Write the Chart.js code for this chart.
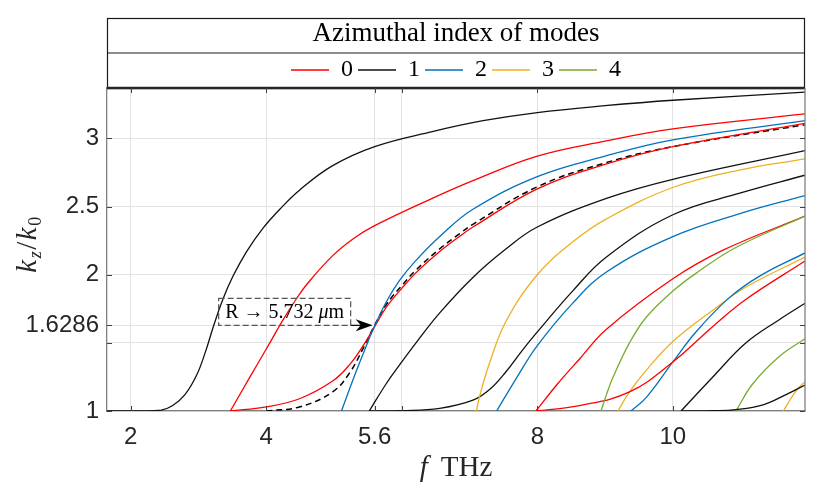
<!DOCTYPE html>
<html>
<head>
<meta charset="utf-8">
<script src="https://cdn.jsdelivr.net/npm/chart.js@4.4.1/dist/chart.umd.min.js"></script>
<style>
  html, body { margin: 0; padding: 0; background: #fff; }
</style>
</head>
<body>
<canvas id="modeChart" width="830" height="494"></canvas>
<script>
// kz/k0 against f (THz) for azimuthal mode index 0..4

const xTicks = [2, 4, 5.6, 6, 8, 10];
const xTickLabels = ['2', '4', '5.6', '', '8', '10'];
const yTicks = [1, 1.5, 1.6286, 2, 2.5, 3];
const yTickLabels = ['1', '', '1.6286', '2', '2.5', '3'];

const modeLabels = ['0', '1', '2', '3', '4'];
const modeColors = ['#ff0000', '#111111', '#0072bd', '#edb120', '#77ac30'];

// mode 0 (red)
const mode0a = [[3.47,1],[3.76,1.25],[4.0,1.455],[4.25,1.67],[4.44,1.82],[4.6,1.93],[4.98,2.14],[5.3,2.27],[5.6,2.36],[6.45,2.56],[7.05,2.69],[8.0,2.87],[9.0,2.98],[10.0,3.07],[11.95,3.18]];
const mode0b = [[3.47,1],[4.0,1.03],[4.49,1.09],[4.98,1.22],[5.23,1.34],[5.43,1.48],[5.6,1.62],[5.77,1.76],[6.0,1.9],[6.2,2.01],[6.56,2.17],[6.85,2.28],[7.05,2.35],[8.0,2.63],[9.0,2.81],[10.0,2.94],[11.95,3.11]];
const mode0c = [[7.98,1],[8.3,1.2],[8.62,1.38],[9.02,1.6],[10.0,1.97],[10.74,2.18],[11.95,2.43]];
const mode0d = [[7.98,1],[8.62,1.04],[9.36,1.14],[10.0,1.36],[10.59,1.62],[11.08,1.82],[11.95,2.1]];

// mode 1 (black)
const mode1a = [[1.65,1],[2.2,1.0],[2.45,1.006],[2.62,1.04],[2.8,1.12],[2.97,1.26],[3.1,1.43],[3.22,1.62],[3.36,1.82],[3.51,1.99],[3.71,2.17],[3.95,2.34],[4.2,2.48],[4.49,2.62],[4.98,2.8],[5.6,2.94],[6.45,3.05],[7.2,3.13],[8.0,3.19],[9.0,3.24],[10.0,3.28],[11.95,3.34]];
const mode1b = [[5.52,1],[5.77,1.2],[5.97,1.34],[6.21,1.5],[6.56,1.72],[7.05,1.98],[7.54,2.19],[8.0,2.35],[9.02,2.56],[10.0,2.7],[11.95,2.91]];
const mode1c = [[5.52,1],[6.0,1.003],[6.56,1.02],[7.05,1.08],[7.3,1.16],[7.54,1.29],[7.77,1.44],[8.0,1.58],[8.52,1.88],[9.02,2.13],[10.0,2.44],[11.0,2.6],[11.95,2.73]];
const mode1d = [[10.12,1],[10.59,1.25],[11.08,1.5],[11.57,1.67],[11.95,1.79]];
const mode1e = [[10.12,1],[10.6,1.002],[10.93,1.01],[11.33,1.045],[11.67,1.12],[11.95,1.19]];

// mode 2 (blue)
const mode2a = [[5.11,1],[5.28,1.23],[5.43,1.42],[5.57,1.59],[5.77,1.8],[5.97,1.96],[6.2,2.1],[6.56,2.28],[7.05,2.48],[8.0,2.72],[9.0,2.87],[10.0,2.99],[11.95,3.13]];
const mode2b = [[7.4,1],[7.69,1.24],[8.0,1.48],[8.52,1.79],[9.02,2.02],[10.0,2.28],[11.0,2.45],[11.95,2.58]];
const mode2c = [[9.38,1],[9.61,1.1],[10.0,1.36],[10.34,1.58],[10.83,1.83],[11.28,1.99],[11.95,2.16]];

// mode 3 (yellow)
const mode3a = [[7.1,1],[7.16,1.13],[7.3,1.36],[7.54,1.66],[8.0,2.0],[8.52,2.24],[9.02,2.41],[10.0,2.64],[11.0,2.77],[11.95,2.85]];
const mode3b = [[9.19,1],[9.36,1.14],[9.61,1.3],[10.0,1.51],[10.59,1.74],[11.08,1.91],[11.95,2.13]];
const mode3c = [[11.63,1],[11.82,1.15],[11.95,1.215]];

// mode 4 (green)
const mode4a = [[8.94,1],[9.02,1.12],[9.11,1.24],[9.36,1.5],[9.61,1.69],[10.0,1.88],[10.34,2.01],[10.93,2.2],[11.95,2.43]];
const mode4b = [[10.93,1],[11.18,1.2],[11.57,1.4],[11.95,1.53]];

// dashed curve for R -> 5.732 um
const radiusCurve = [[4.0,1],[4.49,1.03],[4.98,1.14],[5.23,1.28],[5.43,1.46],[5.6,1.63],[5.77,1.78],[6.0,1.92],[6.2,2.03],[6.56,2.19],[6.85,2.3],[7.05,2.37],[8.0,2.645],[9.0,2.82],[10.0,2.94],[11.95,3.1]];

const markF = 5.6;
const markK = 1.6286;

const curves = [
  [0, mode0a], [1, mode1a], [2, mode2a], [3, mode3a], [4, mode4a],
  [0, mode0b], [0, mode0c], [0, mode0d],
  [1, mode1b], [1, mode1c], [1, mode1d], [1, mode1e],
  [2, mode2b], [2, mode2c],
  [3, mode3b], [3, mode3c],
  [4, mode4b]
];

const datasets = curves.map(([m, pts]) => ({
  label: modeLabels[m],
  data: pts.map(([x, y]) => ({x, y})),
  borderColor: modeColors[m],
  backgroundColor: modeColors[m],
  borderWidth: 1.3,
  pointRadius: 0,
  fill: false,
  tension: 0.4
}));

datasets.push({
  label: 'R',
  data: radiusCurve.map(([x, y]) => ({x, y})),
  borderColor: '#000000',
  borderWidth: 1.5,
  borderDash: [6, 4],
  pointRadius: 0,
  fill: false,
  tension: 0.4
});

const SERIF = "'Liberation Serif', 'DejaVu Serif', serif";
const SANS = "'Liberation Sans', Arial, sans-serif";
const TITLE_ROW = 35;

const framePlugin = {
  id: 'frame',
  afterDraw(chart) {
    const ctx = chart.ctx;
    const ca = chart.chartArea;
    const xs = chart.scales.x;
    const ys = chart.scales.y;
    const lg = chart.legend;

    ctx.save();

    // legend box
    ctx.strokeStyle = '#1a1a1a';
    ctx.lineWidth = 1.2;
    ctx.strokeRect(ca.left + 0.5, lg.top + 0.5, ca.right - ca.left - 1, ca.top - lg.top);
    ctx.beginPath();
    ctx.moveTo(ca.left, lg.top + TITLE_ROW);
    ctx.lineTo(ca.right, lg.top + TITLE_ROW);
    ctx.stroke();

    // top of axes (dark, double line look)
    ctx.lineWidth = 2.4;
    ctx.strokeStyle = '#262626';
    ctx.beginPath();
    ctx.moveTo(ca.left, ca.top);
    ctx.lineTo(ca.right, ca.top);
    ctx.stroke();

    // right axis
    ctx.lineWidth = 1.3;
    ctx.strokeStyle = '#808080';
    ctx.beginPath();
    ctx.moveTo(ca.right, ca.top);
    ctx.lineTo(ca.right, ca.bottom);
    ctx.stroke();

    // inward ticks
    ctx.strokeStyle = '#404040';
    ctx.lineWidth = 1;
    ctx.beginPath();
    xs.ticks.forEach(t => {
      const px = Math.round(xs.getPixelForValue(t.value)) + 0.5;
      ctx.moveTo(px, ca.bottom); ctx.lineTo(px, ca.bottom - 5);
      ctx.moveTo(px, ca.top); ctx.lineTo(px, ca.top + 5);
    });
    ys.ticks.forEach(t => {
      const py = Math.round(ys.getPixelForValue(t.value)) + 0.5;
      ctx.moveTo(ca.left, py); ctx.lineTo(ca.left + 5, py);
      ctx.moveTo(ca.right, py); ctx.lineTo(ca.right - 5, py);
    });
    ctx.stroke();

    // annotation: R -> 5.732 um with arrow
    const tipX = xs.getPixelForValue(markF) - 2;
    const tipY = ys.getPixelForValue(markK);
    const boxR = tipX - 22, boxW = 132, boxH = 27;
    const boxL = boxR - boxW, boxT = tipY - boxH;
    ctx.setLineDash([6, 3]);
    ctx.strokeStyle = '#555555';
    ctx.lineWidth = 1.2;
    ctx.strokeRect(boxL, boxT, boxW, boxH);
    ctx.setLineDash([]);

    ctx.fillStyle = '#000';
    ctx.textBaseline = 'middle';
    ctx.textAlign = 'left';
    const partA = 'R \u2192 5.732 ';
    const partB = '\u03bc';
    const partC = 'm';
    ctx.font = '20px ' + SERIF;
    const wA = ctx.measureText(partA).width;
    const wC = ctx.measureText(partC).width;
    ctx.font = 'italic 20px ' + SERIF;
    const wB = ctx.measureText(partB).width;
    let tx = boxL + (boxW - wA - wB - wC) / 2;
    const ty = boxT + boxH / 2 + 1;
    ctx.font = '20px ' + SERIF;
    ctx.fillText(partA, tx, ty);
    tx += wA;
    ctx.font = 'italic 20px ' + SERIF;
    ctx.fillText(partB, tx, ty);
    tx += wB;
    ctx.font = '20px ' + SERIF;
    ctx.fillText(partC, tx, ty);

    ctx.strokeStyle = '#000';
    ctx.lineWidth = 1.2;
    ctx.beginPath();
    ctx.moveTo(boxR, tipY);
    ctx.lineTo(tipX - 8, tipY);
    ctx.stroke();
    ctx.beginPath();
    ctx.moveTo(tipX, tipY);
    ctx.lineTo(tipX - 17, tipY - 6);
    ctx.lineTo(tipX - 12, tipY);
    ctx.lineTo(tipX - 17, tipY + 6);
    ctx.closePath();
    ctx.fill();

    // x axis title: f THz
    ctx.fillStyle = '#262626';
    ctx.textBaseline = 'middle';
    ctx.font = 'italic 29px ' + SERIF;
    const wf = ctx.measureText('f').width + 13;
    ctx.font = '29px ' + SERIF;
    const wt = ctx.measureText('THz').width;
    const xx = (ca.left + ca.right) / 2 - (wf + wt) / 2;
    const xy = 468;
    ctx.font = 'italic 29px ' + SERIF;
    ctx.fillText('f', xx, xy);
    ctx.font = '29px ' + SERIF;
    ctx.fillText('THz', xx + wf, xy);

    // y axis title: k_z / k_0
    ctx.translate(26, 244);
    ctx.rotate(-Math.PI / 2);
    const big = 'italic 29px ' + SERIF;
    const pieces = [
      ['k', big, 0], ['z', 'italic 18px ' + SERIF, 5], ['/', '29px ' + SERIF, 0],
      ['k', big, 0], ['0', '18px ' + SERIF, 5]
    ];
    let total = 0;
    pieces.forEach(p => { ctx.font = p[1]; total += ctx.measureText(p[0]).width + 1.5; });
    let px = -total / 2;
    ctx.textBaseline = 'alphabetic';
    pieces.forEach(p => {
      ctx.font = p[1];
      ctx.fillText(p[0], px, 10 + p[2]);
      px += ctx.measureText(p[0]).width + 1.5;
    });

    ctx.restore();
  }
};

new Chart(document.getElementById('modeChart'), {
  type: 'line',
  data: { datasets },
  plugins: [framePlugin],
  options: {
    responsive: false,
    animation: false,
    devicePixelRatio: 1,
    layout: { padding: { left: 0, right: 25, top: 18, bottom: 0 } },
    plugins: {
      tooltip: { enabled: false },
      legend: {
        display: true,
        position: 'top',
        fullSize: false,
        align: 'center',
        maxHeight: 70,
        title: {
          display: true,
          text: 'Azimuthal index of modes',
          color: '#000',
          font: { family: SERIF, size: 27, lineHeight: 1 },
          padding: { top: 2, bottom: 6 }
        },
        labels: {
          color: '#000',
          boxWidth: 38,
          boxHeight: 0,
          padding: 5,
          font: { family: SERIF, size: 24 },
          filter: (item, data) =>
            item.text !== 'R' &&
            data.datasets.findIndex(d => d.label === item.text) === item.datasetIndex,
          sort: (a, b) => Number(a.text) - Number(b.text)
        }
      }
    },
    scales: {
      x: {
        type: 'linear',
        min: 1.65,
        max: 11.95,
        afterFit: s => { s.height = 83; },
        afterBuildTicks: s => { s.ticks = xTicks.map(v => ({ value: v })); },
        grid: { color: '#e3e3e3', lineWidth: 1, drawTicks: false },
        border: { color: '#808080', width: 1.3 },
        ticks: {
          autoSkip: false,
          maxRotation: 0,
          padding: 12,
          color: '#262626',
          font: { family: SANS, size: 24 },
          callback: (v, i) => xTickLabels[i]
        }
      },
      y: {
        type: 'linear',
        min: 1,
        max: 3.37,
        afterFit: s => { s.width = 107; },
        afterBuildTicks: s => { s.ticks = yTicks.map(v => ({ value: v })); },
        grid: { color: '#e3e3e3', lineWidth: 1, drawTicks: false },
        border: { color: '#808080', width: 1.3 },
        ticks: {
          autoSkip: false,
          padding: 8,
          color: '#262626',
          font: { family: SANS, size: 24 },
          callback: (v, i) => yTickLabels[i]
        }
      }
    }
  }
});
</script>
</body>
</html>
